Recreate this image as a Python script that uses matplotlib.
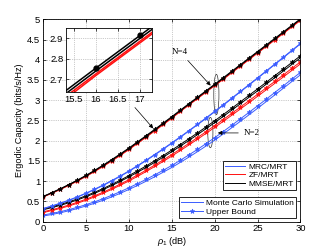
import numpy as np
import matplotlib
matplotlib.use("Agg")
import matplotlib.pyplot as plt
from matplotlib import patches
from matplotlib.lines import Line2D

plt.rcParams['font.family'] = ['Liberation Sans', 'DejaVu Sans']
plt.rcParams['font.size'] = 6.3
plt.rcParams['mathtext.fontset'] = 'custom'
plt.rcParams['mathtext.rm'] = 'Liberation Sans'
plt.rcParams['mathtext.it'] = 'Liberation Sans:italic'

snr_db = list(range(0, 31))

# N = 4
mmse4_ub = [0.620, 0.712, 0.810, 0.914, 1.024, 1.140, 1.264, 1.394, 1.530, 1.671, 1.816,
            1.968, 2.121, 2.276, 2.433, 2.592, 2.754, 2.914, 3.074, 3.234, 3.394,
            3.555, 3.717, 3.879, 4.041, 4.203, 4.365, 4.527, 4.689, 4.851, 5.012]
mmse4_sim = [0.614, 0.705, 0.802, 0.905, 1.014, 1.129, 1.252, 1.381, 1.516, 1.657, 1.801,
             1.953, 2.106, 2.261, 2.418, 2.577, 2.740, 2.900, 3.060, 3.220, 3.380,
             3.540, 3.702, 3.864, 4.026, 4.188, 4.350, 4.512, 4.674, 4.836, 4.997]
zf4_ub = [0.610, 0.700, 0.796, 0.898, 1.006, 1.120, 1.242, 1.370, 1.504, 1.644, 1.788,
          1.940, 2.093, 2.248, 2.405, 2.564, 2.726, 2.886, 3.046, 3.206, 3.366,
          3.527, 3.689, 3.851, 4.013, 4.175, 4.337, 4.499, 4.661, 4.823, 4.984]
zf4_sim = [0.605, 0.694, 0.789, 0.890, 0.997, 1.111, 1.232, 1.359, 1.492, 1.631, 1.775,
           1.927, 2.080, 2.235, 2.392, 2.551, 2.718, 2.878, 3.038, 3.198, 3.358,
           3.514, 3.676, 3.838, 4.000, 4.162, 4.324, 4.486, 4.648, 4.810, 4.971]
mrc4_ub = [0.320, 0.383, 0.452, 0.528, 0.611, 0.701, 0.798, 0.902, 1.012, 1.128, 1.249,
           1.381, 1.516, 1.655, 1.798, 1.945, 2.095, 2.248, 2.404, 2.563, 2.724,
           2.887, 3.052, 3.218, 3.385, 3.553, 3.722, 3.892, 4.062, 4.233, 4.404]
mrc4_sim = [0.315, 0.377, 0.445, 0.520, 0.602, 0.691, 0.787, 0.890, 0.999, 1.115, 1.236,
            1.368, 1.503, 1.642, 1.785, 1.932, 2.082, 2.235, 2.391, 2.550, 2.711,
            2.874, 3.039, 3.205, 3.372, 3.540, 3.709, 3.879, 4.049, 4.220, 4.391]

# N = 2
mmse2_ub = [0.310, 0.362, 0.420, 0.485, 0.557, 0.636, 0.722, 0.815, 0.915, 1.021, 1.133,
            1.250, 1.372, 1.499, 1.630, 1.765, 1.904, 2.046, 2.191, 2.339, 2.490,
            2.644, 2.800, 2.958, 3.118, 3.279, 3.441, 3.604, 3.768, 3.933, 4.098]
mmse2_sim = [0.290, 0.341, 0.398, 0.462, 0.533, 0.611, 0.696, 0.788, 0.887, 0.992, 1.101,
             1.216, 1.335, 1.461, 1.591, 1.725, 1.863, 2.004, 2.148, 2.295, 2.445,
             2.598, 2.754, 2.911, 3.071, 3.231, 3.393, 3.555, 3.719, 3.883, 4.048]
zf2_ub = [0.240, 0.289, 0.344, 0.406, 0.475, 0.551, 0.634, 0.724, 0.821, 0.924, 1.033,
          1.148, 1.268, 1.393, 1.522, 1.655, 1.792, 1.932, 2.075, 2.221, 2.370,
          2.521, 2.674, 2.829, 2.986, 3.144, 3.303, 3.463, 3.624, 3.786, 3.948]
zf2_sim = [0.220, 0.268, 0.322, 0.383, 0.451, 0.526, 0.608, 0.697, 0.793, 0.895, 1.001,
           1.114, 1.233, 1.357, 1.485, 1.617, 1.753, 1.892, 2.034, 2.179, 2.326,
           2.476, 2.628, 2.782, 2.938, 3.095, 3.254, 3.413, 3.573, 3.735, 3.898]
mrc2_ub = [0.160, 0.198, 0.242, 0.293, 0.351, 0.416, 0.486, 0.563, 0.647, 0.737, 0.833,
           0.934, 1.040, 1.151, 1.266, 1.385, 1.514, 1.646, 1.783, 1.925, 2.072,
           2.224, 2.380, 2.538, 2.698, 2.859, 3.023, 3.188, 3.354, 3.521, 3.688]
mrc2_sim = [0.135, 0.172, 0.215, 0.264, 0.320, 0.383, 0.451, 0.526, 0.608, 0.697, 0.791,
            0.890, 0.994, 1.104, 1.218, 1.335, 1.462, 1.592, 1.727, 1.867, 2.012,
            2.164, 2.320, 2.478, 2.638, 2.799, 2.963, 3.128, 3.294, 3.461, 3.628]

BLUE = '#3a5cff'
RED = '#ff1010'
BLACK = '#000000'
lw = 0.7
ms = 3.5

# (sim, bound, colour), drawn bottom-up so black ends on top
curves = [
    (mrc2_sim, mrc2_ub, BLUE),
    (zf2_sim, zf2_ub, RED),
    (mmse2_sim, mmse2_ub, BLACK),
    (mrc4_sim, mrc4_ub, BLUE),
    (zf4_sim, zf4_ub, RED),
    (mmse4_sim, mmse4_ub, BLACK),
]

fig = plt.figure(figsize=(3.32, 2.5), dpi=100)
ax = fig.add_axes([0.1295, 0.114, 0.7755, 0.8088])

for sim, ub, col in curves:
    ax.plot(snr_db, sim, '-', color=col, lw=lw)
    ax.plot(snr_db, ub, '-', color=col, lw=lw, marker='*', ms=ms, mew=0.5)

ax.set_xlim(0, 30)
ax.set_ylim(0, 5)
ax.set_xticks([0, 5, 10, 15, 20, 25, 30])
ax.set_yticks(np.arange(0, 5.01, 0.5))
ax.set_yticklabels(['0', '0.5', '1', '1.5', '2', '2.5', '3', '3.5', '4', '4.5', '5'])
ax.grid(True, ls=':', lw=0.5, color='#999999')
ax.tick_params(direction='in', top=True, right=True, length=2, width=0.5, pad=2,
               labelsize=6.8)
for s in ax.spines.values():
    s.set_linewidth(0.6)
ax.set_xlabel(r'$\rho_1$ (dB)', labelpad=1, fontsize=6.6)
ax.set_ylabel('Ergodic Capacity (bits/s/Hz)', labelpad=2, fontsize=6.6)

# ellipses and arrows
ax.add_patch(patches.Ellipse((20.2, 3.14), 0.6, 1.0, fill=False, lw=0.5, ec='#333333'))
ax.add_patch(patches.Ellipse((19.5, 2.2), 0.6, 0.75, fill=False, lw=0.5, ec='#333333'))
arrow = dict(arrowstyle='-|>', lw=0.5, color='k', mutation_scale=6)
ax.annotate('N=4', xy=(19.75, 3.31), xytext=(15.0, 4.2), family='Liberation Serif',
            fontsize=6.5, va='center', arrowprops=arrow)
ax.annotate('N=2', xy=(20.05, 2.19), xytext=(23.4, 2.19), family='Liberation Serif',
            fontsize=6.5, va='center', arrowprops=arrow)
ax.annotate('', xy=(13.05, 2.25), xytext=(10.5, 2.87), arrowprops=arrow)

# legends
h1 = [Line2D([], [], color=BLUE, lw=lw), Line2D([], [], color=RED, lw=lw),
      Line2D([], [], color=BLACK, lw=lw)]
leg1 = ax.legend(h1, ['MRC/MRT', 'ZF/MRT', 'MMSE/MRT'], loc='lower right',
                 bbox_to_anchor=(0.983, 0.156), fancybox=False, framealpha=1,
                 edgecolor='k', handlelength=2.4, borderpad=0.25, labelspacing=0.1,
                 handletextpad=0.4, borderaxespad=0, fontsize=6.0)
leg1.get_frame().set_linewidth(0.6)
ax.add_artist(leg1)
h2 = [Line2D([], [], color=BLUE, lw=lw),
      Line2D([], [], color=BLUE, lw=lw, marker='*', ms=ms, mew=0.5)]
leg2 = ax.legend(h2, ['Monte Carlo Simulation', 'Upper Bound'], loc='lower right',
                 bbox_to_anchor=(0.983, 0.017), fancybox=False, framealpha=1,
                 edgecolor='k', handlelength=2.6, borderpad=0.25, labelspacing=0.1,
                 handletextpad=0.4, borderaxespad=0, fontsize=6.0)
leg2.get_frame().set_linewidth(0.6)

# inset
axi = fig.add_axes([0.199, 0.632, 0.259, 0.256])
axi.plot(snr_db, zf4_sim, '-', color=RED, lw=1.1)
axi.plot(snr_db, zf4_ub, '-', color=RED, lw=1.1)
axi.plot(snr_db, mmse4_sim, '-', color=BLACK, lw=1.1)
axi.plot(snr_db, mmse4_ub, '-', color=BLACK, lw=1.1, marker='o', ms=3.5)
axi.set_xlim(15.33, 17.27)
axi.set_ylim(2.638, 2.95)
axi.set_xticks([15.5, 16, 16.5, 17])
axi.set_xticklabels(['15.5', '16', '16.5', '17'])
axi.set_yticks([2.7, 2.8, 2.9])
axi.grid(True, ls=':', lw=0.5, color='#999999')
axi.tick_params(direction='in', top=True, right=True, length=2, width=0.5, pad=2,
                labelsize=6.8)
for s in axi.spines.values():
    s.set_linewidth(0.6)

fig.savefig('out.png', dpi=100)
